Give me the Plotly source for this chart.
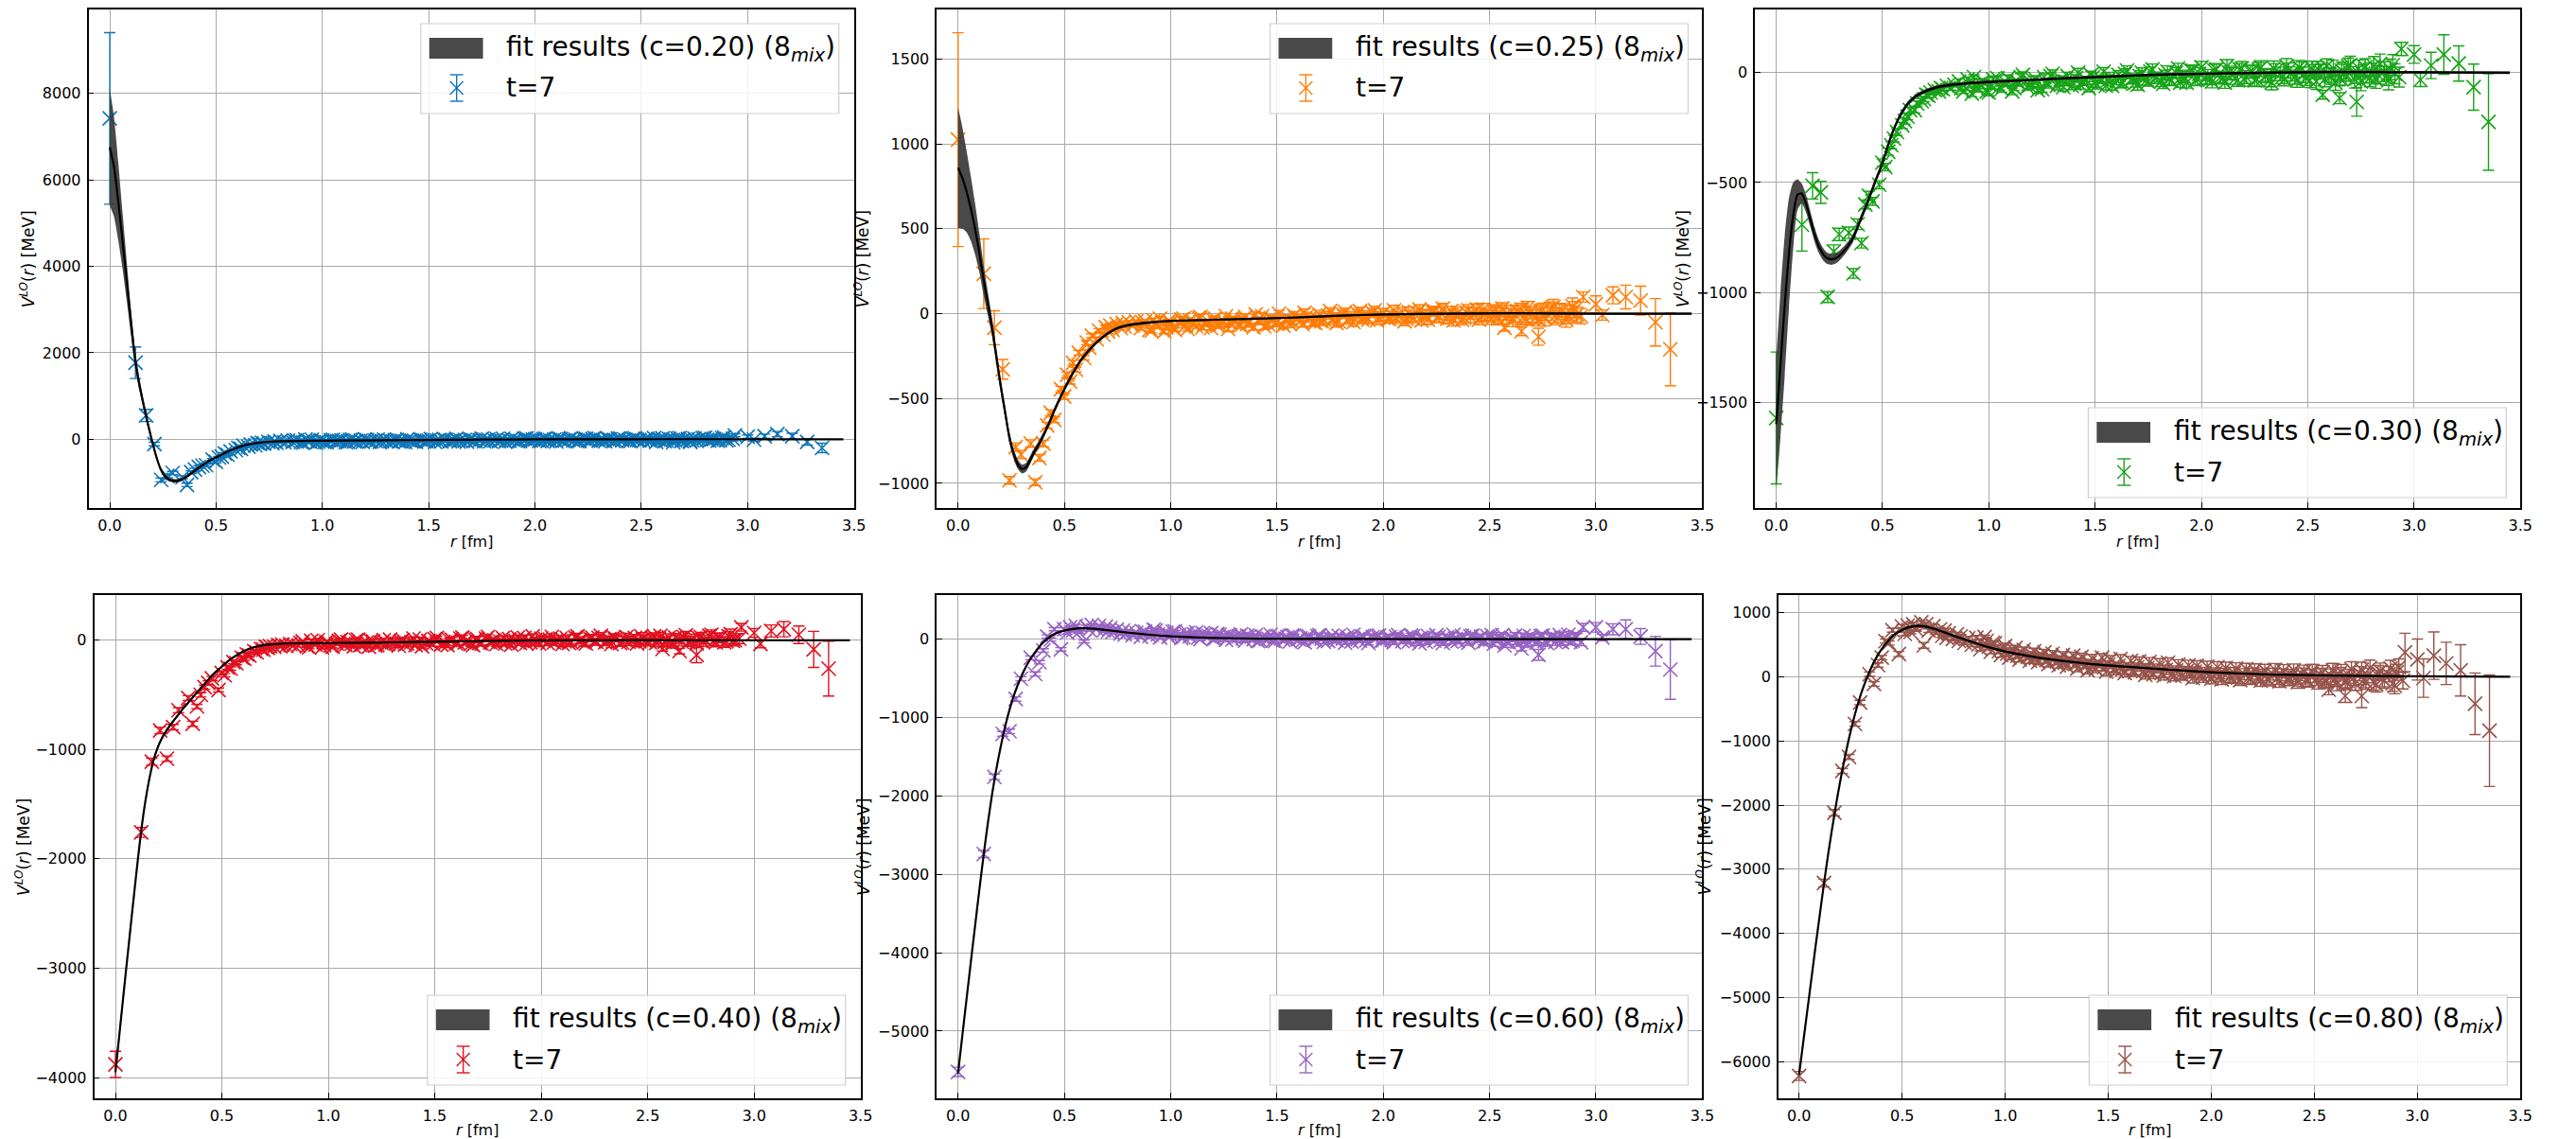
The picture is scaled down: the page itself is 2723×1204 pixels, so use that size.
import plotly.graph_objects as go

W, H = 2723, 1204

# ---------------------------------------------------------------- data
# lattice distances r [fm] shared by every channel
R_SHORT = [0.000, 0.121, 0.171, 0.210, 0.242, 0.271, 0.296, 0.342, 0.363, 0.383,
           0.401, 0.419, 0.436, 0.453, 0.484, 0.499, 0.513, 0.527, 0.541, 0.554,
           0.568, 0.593, 0.605, 0.617, 0.629, 0.652, 0.663, 0.684, 0.695, 0.706,
           0.716, 0.726, 0.746, 0.765, 0.775, 0.784, 0.803, 0.821, 0.838]
R_CLOUD = [0.86, 0.88, 0.91, 0.93, 0.95, 0.98, 1.00, 1.02, 1.05, 1.07,
           1.09, 1.12, 1.14, 1.16, 1.19, 1.21, 1.23, 1.26, 1.28, 1.30,
           1.33, 1.35, 1.37, 1.40, 1.42, 1.44, 1.47, 1.49, 1.51, 1.54,
           1.56, 1.58, 1.61, 1.63, 1.65, 1.68, 1.70, 1.72, 1.75, 1.77,
           1.79, 1.82, 1.84, 1.86, 1.89, 1.91, 1.93, 1.96, 1.98, 2.00,
           2.03, 2.05, 2.07, 2.10, 2.12, 2.14, 2.17, 2.19, 2.21, 2.24,
           2.26, 2.28, 2.31, 2.33, 2.35, 2.38, 2.40, 2.42, 2.45, 2.47,
           2.49, 2.52, 2.54, 2.56, 2.59, 2.61, 2.63, 2.66, 2.68, 2.70,
           2.73, 2.75, 2.77, 2.80, 2.82, 2.84, 2.87, 2.89, 2.91]
R_CLOUD_B = [0.87, 0.90, 0.92, 0.94, 0.97, 0.99, 1.01, 1.04, 1.06, 1.08,
             1.11, 1.13, 1.15, 1.18, 1.20, 1.22, 1.25, 1.27, 1.29, 1.32,
             1.34, 1.36, 1.39, 1.41, 1.43, 1.46, 1.48, 1.50, 1.53, 1.55,
             1.57, 1.60, 1.62, 1.64, 1.67, 1.69, 1.71, 1.74, 1.76, 1.78,
             1.81, 1.83, 1.85, 1.88, 1.90, 1.92, 1.95, 1.97, 1.99, 2.02,
             2.04, 2.06, 2.09, 2.11, 2.13, 2.16, 2.18, 2.20, 2.23, 2.25,
             2.27, 2.30, 2.32, 2.34, 2.37, 2.39, 2.41, 2.44, 2.46, 2.48,
             2.51, 2.53, 2.55, 2.58, 2.60, 2.62, 2.65, 2.67, 2.69, 2.72,
             2.74, 2.76, 2.79, 2.81, 2.83, 2.86, 2.88, 2.90, 2.93]
R_TAIL = [2.57, 2.65, 2.73, 2.94, 3.00, 3.03, 3.08, 3.14, 3.21, 3.28, 3.35]

# r grid of the fitted potential
FIT_R = [0.00, 0.02, 0.04, 0.06, 0.08, 0.10, 0.12, 0.14, 0.16, 0.18,
         0.20, 0.22, 0.24, 0.26, 0.28, 0.30, 0.32, 0.34, 0.36, 0.38,
         0.40, 0.43, 0.46, 0.50, 0.54, 0.58, 0.62, 0.66, 0.70, 0.75,
         0.80, 0.90, 1.00, 1.20, 1.40, 1.60, 1.80, 2.00, 2.30, 2.60,
         3.00, 3.45]

C_VALUES = ["0.20", "0.25", "0.30", "0.40", "0.60", "0.80"]
COLORS = ["#0f74b6", "#ff7c05", "#16a316", "#e01020", "#9663c2", "#96534a"]

# statistical errors in the mid-range region (c = 0.20 ... 0.60)
E_CLOUD = [12, 10, 14, 11, 13, 12, 15, 11, 14, 13,
           15, 12, 16, 14, 13, 17, 14, 16, 15, 18,
           16, 19, 17, 15, 20, 18, 17, 21, 19, 18,
           22, 20, 19, 23, 21, 20, 24, 22, 21, 25,
           23, 22, 26, 24, 23, 27, 25, 24, 28, 26,
           25, 29, 27, 26, 30, 28, 27, 31, 29, 28,
           32, 30, 29, 33, 31, 30, 34, 32, 31, 35,
           33, 32, 36, 34, 33, 37, 35, 38, 36, 40,
           38, 42, 39, 44, 41, 45, 43, 47, 45]

# ---- c = 0.20
V020_SHORT = [7420, 1770, 550, -110, -940, -850, -780, -880, -1056, -760,
              -700, -640, -610, -600, -470, -520, -420, -400, -330, -360,
              -280, -250, -200, -220, -150, -170, -120, -140, -90, -110,
              -80, -100, -60, -90, -50, -80, -40, -70, -30]
E020_SHORT = [1985, 365, 140, 40, 45, 40, 38, 35, 40, 32,
              30, 30, 28, 28, 26, 25, 25, 24, 22, 22,
              21, 20, 20, 19, 18, 18, 17, 17, 16, 16,
              15, 15, 15, 14, 14, 13, 13, 12, 12]
V020_CLOUD = [-60, -20, -75, -40, -10, -55, -30, -70, -15, -45,
              -25, -60, -5, -40, -65, -20, -50, -10, -45, -30,
              -55, -15, -40, 0, -35, -60, -20, -45, 5, -30,
              -50, -10, -35, 10, -25, -55, -5, -40, 15, -20,
              -45, 5, -30, -55, 10, -15, -40, 20, -25, 0,
              -35, 15, -20, -50, 5, -30, 20, -10, -40, 10,
              -25, 25, -15, -45, 0, -30, 15, -5, -40, 20,
              -20, 5, -35, 25, -10, -45, 10, -25, 30, -15,
              -40, 15, -5, 35, -30, 5, -20, 40, -10]
V020_CLOUD_B = [-35, -70, -5, -50, -80, -25, -60, -20, -55, -40,
                -70, -15, -50, -30, -5, -55, -35, -65, -10, -45,
                -20, -50, -65, -25, -45, -10, -50, -30, -60, -15,
                -5, -45, -25, -50, -15, 0, -40, -20, -45, -5,
                -25, -45, 10, -35, -20, -45, 15, -30, -10, -40,
                5, -40, -10, 15, -35, 0, -25, -45, 10, -30,
                5, -35, -20, 10, -40, 15, -25, -35, 10, -15,
                -35, 15, -25, -5, 20, -30, -15, 15, -40, 5,
                -20, -30, 25, -15, 0, -35, 30, -25, 10]
V020_TAIL = [-60, -70, -60, 90, 60, -10, 70, 120, 70, -60, -200]
E020_TAIL = [20, 25, 40, 35, 40, 35, 50, 60, 70, 75, 110]
FIT020 = [6750, 6300, 5500, 4600, 3650, 2700, 1830, 1250, 780, 340,
          -60, -420, -700, -860, -935, -958, -960, -925, -870, -800,
          -730, -620, -520, -420, -320, -230, -160, -110, -80, -58,
          -45, -38, -34, -27, -20, -13, -7, -3, 0, 2,
          1, 0]
ERR020 = [1350, 1150, 900, 650, 450, 300, 200, 140, 100, 80,
          65, 55, 50, 45, 42, 40, 38, 36, 34, 32,
          30, 28, 26, 24, 22, 20, 18, 16, 14, 12,
          11, 10, 10, 9, 9, 8, 8, 8, 8, 8,
          8, 8]

# ---- c = 0.25
V025_SHORT = [1025, 235, -83, -328, -982, -786, -830, -765, -993, -850,
              -765, -658, -584, -626, -445, -488, -360, -400, -290, -330,
              -230, -260, -170, -200, -130, -150, -100, -125, -80, -105,
              -70, -95, -60, -85, -55, -75, -50, -70, -45]
E025_SHORT = [630, 205, 100, 58, 22, 25, 24, 22, 20, 20,
              19, 18, 18, 17, 17, 16, 16, 15, 15, 14,
              14, 13, 13, 13, 12, 12, 12, 11, 11, 11,
              10, 10, 10, 10, 9, 9, 9, 9, 8]
V025_CLOUD = [-85, -45, -100, -60, -30, -80, -50, -95, -35, -70,
              -40, -75, -20, -60, -85, -30, -65, -15, -55, -40,
              -70, -20, -50, -5, -45, -75, -25, -55, 0, -35,
              -60, -10, -40, 5, -30, -55, -5, -35, 15, -20,
              -45, 10, -25, -50, 15, -10, -35, 20, -20, 5,
              -30, 20, -15, -45, 10, -25, 25, -5, -35, 15,
              -20, 30, -10, -40, 5, -25, 20, 0, -35, 25,
              -15, 10, -30, 30, -5, -40, 15, -20, 35, -10,
              -35, 20, 0, 40, -25, 10, -15, 45, -5]
V025_CLOUD_B = [-55, -95, -40, -75, -105, -45, -85, -55, -30, -90,
                -60, -25, -80, -50, -35, -70, -45, -90, -30, -65,
                -35, -60, -80, -40, -15, -65, -35, -50, -70, -25,
                -45, -25, -60, -15, -50, -30, -45, -10, -40, -55,
                -5, -40, -15, 0, -35, -20, 5, -40, -15, -30,
                -10, -25, 10, -30, -15, 5, -40, -10, 15, -25,
                0, -30, 15, -15, -35, 10, -20, 25, -15, -5,
                -30, 20, 0, -25, 15, -10, 25, -30, 5, -20,
                15, -30, 30, -10, 20, -35, 5, 25, -15]
V025_TAIL = [-83, -104, -136, 98, 55, -8, 108, 98, 77, -51, -210]
E025_TAIL = [20, 25, 50, 30, 50, 30, 50, 70, 85, 140, 215]
FIT025 = [860, 800, 720, 620, 500, 360, 200, 60, -80, -250,
          -420, -570, -720, -820, -885, -915, -905, -860, -810, -770,
          -720, -640, -550, -445, -350, -270, -210, -160, -120, -85,
          -68, -52, -43, -36, -30, -22, -12, -5, 0, 2,
          0, 0]
ERR025 = [355, 300, 240, 190, 150, 115, 90, 70, 55, 45,
          40, 36, 32, 30, 28, 26, 25, 24, 22, 21,
          20, 18, 16, 15, 13, 12, 11, 10, 9, 8,
          8, 7, 7, 6, 6, 6, 6, 6, 6, 6,
          6, 6]

# ---- c = 0.30
V030_SHORT = [-1572, -692, -515, -545, -1021, -814, -736, -729, -914, -690,
              -776, -600, -560, -586, -510, -410, -430, -360, -330, -300,
              -270, -240, -220, -200, -170, -170, -140, -130, -120, -100,
              -105, -90, -80, -85, -70, -75, -60, -70, -55]
E030_SHORT = [300, 120, 60, 50, 25, 30, 28, 26, 22, 24,
              22, 20, 20, 18, 18, 17, 17, 16, 16, 15,
              15, 14, 14, 14, 13, 13, 12, 12, 12, 11,
              11, 11, 10, 10, 10, 10, 9, 9, 9]
V030_CLOUD = [-40, -85, -55, -20, -75, -45, -90, -30, -65, -50,
              -25, -70, -45, -10, -60, -35, -80, -20, -55, -5,
              -45, -65, -15, -50, 0, -40, -70, -20, -55, 5,
              -35, -60, -10, -45, 10, -25, -55, 0, -40, 15,
              -20, -50, 5, -35, 20, -15, -45, 10, -30, 25,
              -10, -40, 15, -25, 30, -5, -35, 20, -20, 5,
              -30, 25, -10, -45, 10, -20, 30, -5, -35, 15,
              -25, 20, -40, 5, 30, -15, -45, 10, -20, 35,
              -10, -40, 25, 0, -30, 40, -15, 15, -5]
V030_CLOUD_B = [-70, -30, -95, -60, -40, -85, -55, -25, -75, -45,
                -85, -40, -20, -65, -50, -30, -75, -45, -15, -60,
                -30, -40, -60, -25, -55, -35, -10, -45, -30, -60,
                -20, -35, -50, -5, -30, -45, -15, -35, 5, -25,
                -40, -10, -30, 0, -45, -20, 10, -35, -5, -25,
                -30, 10, -20, -45, 0, -25, 15, -30, 5, -35,
                15, -15, -35, 20, -5, -30, 10, -20, 25, -10,
                -35, 5, 15, -30, -10, 20, -25, 0, 30, -30,
                20, -5, -25, 30, -10, 5, -35, 35, -20]
V030_TAIL = [-100, -116, -133, 108, 83, -33, 33, 83, 42, -66, -224]
E030_TAIL = [20, 25, 65, 30, 40, 30, 60, 90, 80, 105, 220]
FIT030 = [-1600, -1330, -1060, -820, -650, -555, -550, -595, -665, -735,
          -790, -825, -845, -850, -845, -830, -810, -785, -755, -710,
          -660, -590, -510, -410, -290, -200, -140, -105, -85, -68,
          -58, -48, -42, -33, -24, -16, -9, -5, 0, 3,
          2, 0]
ERR030 = [300, 330, 320, 250, 150, 70, 45, 40, 36, 33,
          30, 28, 26, 25, 24, 22, 21, 20, 19, 18,
          17, 16, 15, 14, 13, 12, 11, 10, 9, 8,
          8, 7, 7, 6, 6, 6, 6, 6, 6, 6,
          6, 6]

# ---- c = 0.40
V040_SHORT = [-3880, -1758, -1111, -825, -1084, -795, -640, -529, -765, -606,
              -500, -430, -390, -350, -455, -300, -320, -250, -260, -200,
              -210, -160, -170, -130, -140, -100, -110, -80, -85, -60,
              -70, -55, -60, -45, -55, -40, -50, -35, -45]
E040_SHORT = [120, 45, 32, 30, 25, 25, 24, 22, 24, 20,
              20, 19, 18, 18, 18, 17, 16, 16, 15, 15,
              15, 14, 14, 13, 13, 13, 12, 12, 12, 11,
              11, 11, 10, 10, 10, 10, 9, 9, 9]
V040_CLOUD = [-50, -10, -65, -30, 0, -45, -20, -60, -5, -35,
              -15, -55, 5, -40, -60, -10, -45, 0, -35, -20,
              -50, 0, -30, 15, -25, -55, -5, -35, 20, -15,
              -45, 5, -25, 25, -15, -45, 10, -30, 30, -10,
              -35, 20, -15, -40, 25, -5, -30, 35, -10, 15,
              -25, 30, -5, -35, 20, -15, 35, 0, -30, 25,
              -15, 40, -5, -35, 15, -20, 30, 5, -30, 35,
              -10, 20, -25, 40, 0, -35, 25, -15, 45, -5,
              -30, 30, 5, 50, -20, 20, -10, 55, 0]
V040_CLOUD_B = [-25, -55, -5, -40, -65, -15, -50, -30, 5, -45,
                -30, 0, -45, -20, -5, -50, -25, -40, 5, -30,
                -10, -40, -20, -45, 5, -30, -15, 10, -40, -25,
                0, -30, 15, -20, -35, 5, -25, 15, -20, 0,
                -15, -30, 10, -5, -25, 20, -20, 0, -30, 10,
                5, -20, 15, -10, -25, 25, 0, -20, 15, -10,
                20, -20, 10, 25, -25, 5, -15, 20, -10, 10,
                -20, 35, 5, -15, 25, -25, 10, 30, -20, 15,
                20, -15, 40, -5, 25, -20, 35, -5, 15]
V040_TAIL = [-80, -100, -135, 118, 67, -34, 84, 101, 50, -84, -260]
E040_TAIL = [20, 25, 70, 35, 40, 35, 55, 70, 80, 165, 250]
FIT040 = [-3950, -3580, -3200, -2830, -2460, -2100, -1760, -1480, -1260, -1090,
          -975, -890, -825, -770, -720, -670, -620, -575, -530, -485,
          -440, -375, -310, -240, -175, -125, -85, -60, -45, -35,
          -30, -28, -26, -22, -17, -12, -6, -2, 0, 0,
          0, 0]
ERR040 = [60, 50, 40, 35, 30, 28, 25, 22, 20, 18,
          16, 15, 14, 13, 12, 12, 11, 11, 10, 10,
          10, 9, 9, 9, 8, 8, 8, 7, 7, 7,
          6, 6, 6, 6, 6, 6, 6, 6, 6, 6,
          6, 6]

# ---- c = 0.60
V060_SHORT = [-5520, -2741, -1757, -1209, -1176, -764, -506, -239, -445, -295,
              -145, 33, -5, 126, -131, 126, 80, 150, 110, 170,
              90, -30, 160, 120, 180, 130, 170, 110, 160, 100,
              140, 90, 120, 70, 110, 60, 100, 50, 80]
E060_SHORT = [60, 45, 35, 30, 28, 28, 26, 24, 26, 22,
              22, 21, 20, 20, 22, 19, 19, 18, 18, 17,
              17, 17, 16, 16, 16, 15, 15, 15, 14, 14,
              14, 13, 13, 13, 12, 12, 12, 12, 11]
V060_CLOUD = [30, 95, 55, 110, 20, 80, 45, 100, 15, 70,
              35, 85, 0, 60, 75, 10, 55, -10, 45, 20,
              60, -20, 35, 50, -15, 25, 55, -25, 40, 5,
              -30, 45, 10, -40, 35, -5, 50, -35, 20, 0,
              40, -45, 15, 55, -20, 30, -50, 10, 45, -15,
              25, -40, 50, 0, -30, 35, -55, 15, 40, -20,
              30, -50, 10, 55, -25, 20, -45, 45, 0, -35,
              35, -60, 15, 50, -40, 5, -30, 40, -65, 20,
              -10, 45, -50, 30, 0, -40, 55, -20, 25]
V060_CLOUD_B = [90, 40, 120, 60, 85, 30, 95, 55, 25, 80,
                60, 20, 75, 40, 5, 65, 30, 50, -5, 35,
                10, 45, 0, -25, 30, 5, -20, 40, -10, 25,
                45, 0, -20, 30, -10, 40, 5, -25, 45, -15,
                5, 30, -30, 0, 35, -15, 25, 40, -25, 15,
                -10, 30, -25, 20, 45, -10, 20, -35, 5, 50,
                -15, 25, -30, 0, 40, -20, 35, -5, 30, -25,
                50, -15, 25, -35, 10, 45, -20, 0, 35, -45,
                40, -25, 15, -35, 50, 5, -30, 35, -40]
V060_TAIL = [-80, -120, -200, 150, 150, 20, 126, 126, 33, -154, -388]
E060_TAIL = [25, 30, 70, 50, 60, 40, 70, 120, 100, 190, 380]
FIT060 = [-5540, -5060, -4590, -4120, -3660, -3200, -2760, -2350, -1980, -1660,
          -1380, -1130, -920, -740, -590, -460, -350, -255, -175, -105,
          -45, 25, 75, 110, 130, 138, 135, 126, 115, 98,
          82, 55, 35, 15, 6, 3, 2, 1, 0, 0,
          0, 0]
ERR060 = [40, 35, 30, 28, 25, 22, 20, 18, 16, 15,
          14, 13, 12, 12, 11, 11, 10, 10, 10, 10,
          10, 10, 10, 10, 10, 10, 10, 10, 9, 9,
          9, 8, 8, 7, 7, 6, 6, 6, 6, 6,
          6, 6]

# ---- c = 0.80
V080_SHORT = [-6223, -3215, -2120, -1467, -1249, -734, -401, 40, -110, 183,
              300, 556, 527, 728, 355, 785, 670, 800, 700, 820,
              740, 850, 490, 820, 720, 790, 690, 740, 640, 720,
              610, 680, 590, 660, 560, 630, 530, 600, 500]
E080_SHORT = [70, 60, 50, 40, 38, 36, 35, 34, 36, 33,
              33, 32, 32, 31, 40, 31, 30, 30, 30, 30,
              29, 29, 45, 29, 28, 28, 28, 28, 28, 28,
              28, 28, 29, 29, 29, 29, 30, 30, 30]
V080_CLOUD = [610, 430, 560, 390, 520, 340, 480, 300, 450, 270,
              420, 250, 400, 230, 380, 200, 360, 180, 340, 160,
              330, 130, 310, 100, 290, 120, 300, 80, 270, 90,
              280, 60, 250, 70, 240, 30, 230, 40, 210, 20,
              220, 10, 190, 20, 180, -20, 170, -10, 160, -30,
              150, -40, 140, -20, 130, -50, 120, -30, 110, -60,
              100, -50, 110, -70, 90, -40, 100, -80, 80, -60,
              90, -90, 70, -70, 100, -110, 80, -60, 120, -100,
              110, -80, 140, -120, 90, -60, 130, -140, 150]
V080_CLOUD_B = [500, 620, 470, 530, 400, 460, 360, 420, 330, 380,
                310, 350, 290, 330, 260, 300, 240, 280, 220, 260,
                200, 240, 190, 220, 160, 200, 150, 190, 130, 170,
                120, 160, 100, 150, 90, 140, 80, 130, 60, 110,
                50, 100, 40, 90, 60, 80, 30, 70, 20, 60,
                10, 50, 0, 60, -10, 40, -20, 50, 0, 30,
                -30, 40, -20, 30, -40, 20, -10, 40, -50, 10,
                -30, 30, -60, 20, -40, 40, -70, 10, -20, 50,
                -50, 20, -90, 60, -30, 40, -100, 70, -60]
E080_CLOUD = [35, 30, 40, 32, 38, 34, 42, 36, 40, 38,
              44, 40, 46, 42, 48, 45, 50, 47, 52, 49,
              55, 51, 57, 53, 59, 56, 60, 58, 62, 60,
              65, 61, 67, 63, 69, 66, 70, 68, 72, 70,
              75, 71, 77, 73, 79, 76, 80, 78, 82, 80,
              85, 81, 87, 83, 89, 86, 90, 88, 92, 90,
              95, 91, 97, 93, 99, 96, 100, 98, 102, 100,
              105, 101, 107, 103, 110, 106, 112, 108, 115, 110,
              118, 114, 122, 117, 125, 120, 128, 124, 130]
V080_TAIL = [-200, -300, -300, 380, 270, -20, 330, 210, 100, -420, -840]
E080_TAIL = [80, 100, 180, 300, 320, 300, 370, 330, 400, 480, 870]
FIT080 = [-6200, -5700, -5200, -4700, -4200, -3720, -3240, -2790, -2370, -1980,
          -1620, -1290, -990, -720, -480, -270, -90, 70, 210, 330,
          430, 550, 650, 730, 780, 795, 780, 745, 700, 640,
          585, 480, 395, 280, 205, 155, 110, 70, 35, 18,
          8, 0]
ERR080 = [60, 55, 50, 45, 40, 36, 33, 30, 28, 26,
          25, 24, 23, 22, 22, 21, 21, 20, 20, 20,
          20, 20, 20, 20, 20, 20, 20, 20, 20, 19,
          19, 18, 18, 17, 16, 15, 14, 13, 12, 11,
          10, 10]

R_ALL = R_SHORT + R_CLOUD + R_CLOUD_B + R_TAIL
SERIES = [
    (V020_SHORT + V020_CLOUD + V020_CLOUD_B + V020_TAIL,
     E020_SHORT + E_CLOUD + E_CLOUD + E020_TAIL, FIT020, ERR020),
    (V025_SHORT + V025_CLOUD + V025_CLOUD_B + V025_TAIL,
     E025_SHORT + E_CLOUD + E_CLOUD + E025_TAIL, FIT025, ERR025),
    (V030_SHORT + V030_CLOUD + V030_CLOUD_B + V030_TAIL,
     E030_SHORT + E_CLOUD + E_CLOUD + E030_TAIL, FIT030, ERR030),
    (V040_SHORT + V040_CLOUD + V040_CLOUD_B + V040_TAIL,
     E040_SHORT + E_CLOUD + E_CLOUD + E040_TAIL, FIT040, ERR040),
    (V060_SHORT + V060_CLOUD + V060_CLOUD_B + V060_TAIL,
     E060_SHORT + E_CLOUD + E_CLOUD + E060_TAIL, FIT060, ERR060),
    (V080_SHORT + V080_CLOUD + V080_CLOUD_B + V080_TAIL,
     E080_SHORT + E080_CLOUD + E080_CLOUD + E080_TAIL, FIT080, ERR080),
]

# ---------------------------------------------------------------- layout
# plot areas in pixels: (left, right, top, bottom)
AREAS = [(94, 907, 10, 537), (995, 1808, 10, 537), (1864, 2677, 10, 537),
         (100, 914, 629, 1161), (995, 1808, 629, 1161), (1889, 2677, 629, 1161)]
YRANGES = [(-1590, 9940), (-1145, 1792), (-1982, 288),
           (-4190, 413), (-5857, 562), (-6572, 1275)]
YSTEPS = [2000, 500, 500, 1000, 1000, 1000]
# legend box anchor: (vertical side, right edge px, edge px)
LEGENDS = [("top", 891, 25), ("top", 1793, 25), ("bottom", 2662, 526),
           ("bottom", 898, 1147), ("bottom", 1793, 1147), ("bottom", 2663, 1147)]
YTITLE_X = [30, 916, 1787, 24, 916, 1810]
XTITLE_Y = [572, 572, 572, 1194, 1194, 1194]

FONT = "DejaVu Sans"
BAND = "rgba(58,58,58,0.92)"
LEG_W, LEG_H = 444, 95


def px(x):
    return x / W


def py(y):
    return 1 - y / H


fig = go.Figure()
shapes, annotations = [], []

for i, (vals, errs, fit, hw) in enumerate(SERIES):
    n = i + 1
    xa, ya = ("x", "y") if n == 1 else (f"x{n}", f"y{n}")
    color = COLORS[i]

    fig.add_trace(go.Scatter(
        x=R_ALL, y=vals, mode="markers", xaxis=xa, yaxis=ya, showlegend=False,
        marker=dict(symbol="x-thin", size=15, color=color,
                    line=dict(color=color, width=1.6)),
        error_y=dict(type="data", array=errs, visible=True, color=color,
                     thickness=1.4, width=6),
    ))
    lo = [f - h for f, h in zip(fit, hw)]
    hi = [f + h for f, h in zip(fit, hw)]
    fig.add_trace(go.Scatter(x=FIT_R, y=lo, mode="lines", xaxis=xa, yaxis=ya,
                             line=dict(width=0, shape="spline", smoothing=0.6),
                             showlegend=False, hoverinfo="skip"))
    fig.add_trace(go.Scatter(x=FIT_R, y=hi, mode="lines", xaxis=xa, yaxis=ya,
                             fill="tonexty", fillcolor=BAND,
                             line=dict(width=0, shape="spline", smoothing=0.6),
                             showlegend=False, hoverinfo="skip"))
    fig.add_trace(go.Scatter(x=FIT_R, y=fit, mode="lines", xaxis=xa, yaxis=ya,
                             line=dict(color="black", width=2.2, shape="spline", smoothing=0.6),
                             showlegend=False, hoverinfo="skip"))

    left, right, top, bottom = AREAS[i]
    axis_common = dict(
        showline=True, linecolor="black", linewidth=1.6, mirror=True,
        ticks="inside", ticklen=6, tickwidth=1, tickcolor="black",
        showgrid=True, gridcolor="#a9a9a9", gridwidth=1, zeroline=False,
        tickfont=dict(family=FONT, size=16, color="black"),
    )
    fig.layout[f"xaxis{'' if n == 1 else n}"] = dict(
        domain=[px(left), px(right)], anchor=ya, range=[-0.1, 3.5],
        tick0=0, dtick=0.5, tickformat=".1f", ticklabelstandoff=3, **axis_common)
    fig.layout[f"yaxis{'' if n == 1 else n}"] = dict(
        domain=[py(bottom), py(top)], anchor=xa, range=list(YRANGES[i]),
        tick0=0, dtick=YSTEPS[i], tickformat="d", ticklabelstandoff=3, **axis_common)

    # axis titles
    annotations.append(dict(
        x=px(YTITLE_X[i]), y=py((top + bottom) / 2), xref="paper", yref="paper",
        xanchor="center", yanchor="middle",
        text="<i>V</i><sup><i>LO</i></sup>(<i>r</i>) [MeV]", textangle=-90,
        showarrow=False, font=dict(family=FONT, size=17, color="black")))
    annotations.append(dict(
        x=px((left + right) / 2), y=py(XTITLE_Y[i]), xref="paper", yref="paper",
        xanchor="center", yanchor="middle", text="<i>r</i> [fm]", showarrow=False,
        font=dict(family=FONT, size=16, color="black")))

    # legend box
    side, lr, edge = LEGENDS[i]
    L = lr - LEG_W
    T = edge if side == "top" else edge - LEG_H
    shapes.append(dict(type="rect", xref="paper", yref="paper",
                       x0=px(L), x1=px(lr), y0=py(T + LEG_H), y1=py(T),
                       fillcolor="rgba(255,255,255,0.85)",
                       line=dict(color="#d0d0d0", width=1.2), layer="above"))
    shapes.append(dict(type="rect", xref="paper", yref="paper",
                       x0=px(L + 9), x1=px(L + 66), y0=py(T + 37), y1=py(T + 15),
                       fillcolor=BAND, line=dict(width=0), layer="above"))
    mx, my = L + 38, T + 68
    glyph = [((mx, my - 14), (mx, my + 14)),
             ((mx - 7, my - 14), (mx + 7, my - 14)),
             ((mx - 7, my + 14), (mx + 7, my + 14)),
             ((mx - 7, my - 7), (mx + 7, my + 7)),
             ((mx - 7, my + 7), (mx + 7, my - 7))]
    for (x0, y0), (x1, y1) in glyph:
        shapes.append(dict(type="line", xref="paper", yref="paper",
                           x0=px(x0), y0=py(y0), x1=px(x1), y1=py(y1),
                           line=dict(color=color, width=1.4), layer="above"))
    annotations.append(dict(
        x=px(L + 89), y=py(T + 26), xref="paper", yref="paper",
        xanchor="left", yanchor="middle", showarrow=False,
        text=f"fit results (c={C_VALUES[i]}) (8<sub><i>mix</i></sub>)",
        font=dict(family=FONT, size=28, color="black")))
    annotations.append(dict(
        x=px(L + 89), y=py(T + 68), xref="paper", yref="paper",
        xanchor="left", yanchor="middle", showarrow=False, text="t=7",
        font=dict(family=FONT, size=28, color="black")))

fig.update_layout(
    width=W, height=H, margin=dict(l=0, r=0, t=0, b=0),
    paper_bgcolor="white", plot_bgcolor="white",
    showlegend=False, shapes=shapes, annotations=annotations,
)

fig.write_html("out.html")
